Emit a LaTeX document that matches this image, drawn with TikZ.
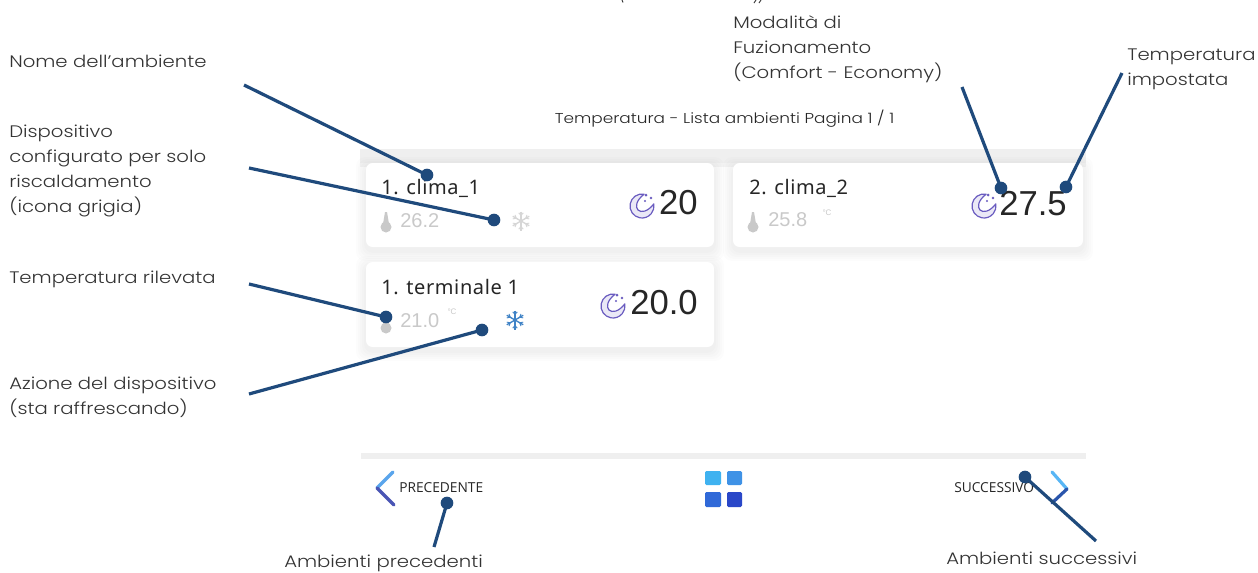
\documentclass[tikz,border=0pt]{standalone}
\usepackage{fontspec}
\setmainfont[FakeStretch=1.18]{Poppins Light}
\newfontfamily\cardfont[LetterSpace=3]{Noto Sans}
\newfontfamily\numfont{Liberation Sans}
\newfontfamily\navfont{Open Sans}
\definecolor{leader}{HTML}{1F4A7C}
\definecolor{labelgray}{HTML}{333333}
\definecolor{faint}{HTML}{C9C9C9}
\definecolor{band}{HTML}{EFEFEF}
\definecolor{moonc}{HTML}{6A5CC0}
\tikzset{
  note/.style={anchor=west,inner sep=0pt,align=left,text=labelgray,font=\fontsize{12.5}{18.75}\selectfont},
  leaderline/.style={draw=leader,line width=2.4pt},
  dot/.style={circle,fill=leader,inner sep=0pt,minimum size=9.5pt},
  cardbox/.style={fill=white,rounded corners=5pt},
  cardname/.style={anchor=west,inner sep=0pt,text=black!85,font=\cardfont\fontsize{15}{18}\selectfont},
  faintnum/.style={anchor=west,inner sep=0pt,text=faint,font=\numfont\fontsize{15}{18}\selectfont},
  unitmark/.style={inner sep=0pt,text=faint,font=\numfont\fontsize{6}{7}\selectfont},
  bignum/.style={anchor=east,inner sep=0pt,text=black!85,font=\numfont\fontsize{26}{30}\selectfont},
  navtext/.style={anchor=west,inner sep=0pt,text=black!85,font=\navfont\fontsize{10.3}{12}\selectfont},
  moonicon/.pic={
    \draw[moonc,line width=.9pt,fill=moonc!14,line cap=round,line join=round]
      (-80:12) arc (-80:-370:12)
      .. controls (-1,14.3) and (-14.3,1) .. cycle;
    \fill[moonc] (4,-11) circle (1.5) (9,-8) circle (1.3) (3,-5) circle (1.1);
  },
  thermo/.pic={
    \fill[#1] (-1,-12) -- (1,-12) -- (3,0) -- (-3,0) -- cycle;
    \fill[#1] (0,3) circle (5.5);
  },
  flake/.pic={
    \foreach \a in {90,30,150}{
      \draw[#1,line width=1pt] (\a:-9.5) -- (\a:9.5);
    }
    \foreach \a in {30,90,150,210,270,330}{
      \draw[#1,line width=.7pt] (\a:5.5) -- ++(\a+40:3.5) (\a:5.5) -- ++(\a-40:3.5);
    }
  },
}
\newcommand{\softcard}[4]{%
  \foreach \g in {10,8,6,4,2}{
    \fill[black,opacity=.01,rounded corners=7pt] (#1-\g,#2-\g+4) rectangle (#3+\g,#4+\g+4);
  }
  \fill[cardbox] (#1,#2) rectangle (#3,#4);
}
\begin{document}
\begin{tikzpicture}[x=.75pt,y=-.75pt]
\useasboundingbox (0,0) rectangle (1258,572);
\fill[white] (0,0) rectangle (1258,572);

% cut-off remains of a line at the top edge
\draw[labelgray,line width=.7pt] (622,0) -- (623,2.5);
\draw[labelgray,line width=.7pt] (756,0) -- (754,3);
\draw[labelgray,line width=.7pt] (761,0) -- (759,3);

% panel
\fill[band] (360,149) rectangle (1086,163);
\fill[band!60] (360,163) rectangle (1086,167);
\softcard{366}{163}{714}{247}
\softcard{733}{163}{1083}{247}
\softcard{366}{262}{714}{347}
\fill[band] (361,453) rectangle (1086,459);

\node[inner sep=0pt,text=black!85,font=\fontsize{10.75}{14}\selectfont] (title) at (724.5,119) {Temperatura - Lista ambienti Pagina 1 / 1};

% cards: text
\node[cardname] (n1) at (381,188) {1. clima\_1};
\node[cardname] (n2) at (749,188) {2. clima\_2};
\node[cardname] (n3) at (381,287) {1. terminale 1};
\node[faintnum] (t1) at (400,221) {26.2};
\node[faintnum] (t2) at (768,220) {25.8};
\node[faintnum] (t3) at (400,321) {21.0};
\node[unitmark] (u2) at (827,213) {°C};
\node[unitmark] (u3) at (452,312) {°C};
\node[bignum] (s1) at (698,203) {20};
\node[bignum] (s2) at (1067,204) {27.5};
\node[bignum] (s3) at (698,303) {20.0};

% icons
\pic at (642,206) {moonicon};
\pic at (984,206) {moonicon};
\pic at (613,306) {moonicon};
\pic at (386,224) {thermo=faint};
\pic at (753,224) {thermo=faint};
\pic at (386,325) {thermo=faint};
\pic at (521,221) {flake=black!16};
\pic at (515,320) {flake={blue!50!cyan!70!black!75}};

% navigation
\definecolor{chevA}{HTML}{5AA5EC}
\definecolor{chevB}{HTML}{4A55B5}
\definecolor{chevC}{HTML}{58B6F5}
\definecolor{chevD}{HTML}{2A55AC}
\draw[line width=2.6pt,line cap=round,color=chevA] (393,472) -- (377,488);
\draw[line width=2.6pt,line cap=round,color=chevB] (377,488) -- (394,505);
\draw[line width=2.4pt,line cap=round,color=chevC] (1052,472) -- (1067,489);
\draw[line width=2.4pt,line cap=round,color=chevD] (1067,489) -- (1052,503);
\node[navtext] (prev) at (399,488) {PRECEDENTE};
\node[navtext] (next) at (954,488) {SUCCESSIVO};
\definecolor{gridA}{HTML}{3FB2F0}
\definecolor{gridB}{HTML}{3F92E6}
\definecolor{gridC}{HTML}{3069D8}
\definecolor{gridD}{HTML}{2A47C8}
\fill[gridA,rounded corners=1pt] (705,471) rectangle (721,485);
\fill[gridB,rounded corners=1pt] (727,471) rectangle (742,485);
\fill[gridC,rounded corners=1pt] (705,492) rectangle (721,507);
\fill[gridD,rounded corners=1pt] (727,492) rectangle (742,507);

% annotations
\node[note] (nome) at (9,61) {Nome dell'ambiente};
\node[note] (disp) at (9,170.5) {Dispositivo\\configurato per solo\\riscaldamento\\(icona grigia)};
\node[note] (ril) at (9,279) {Temperatura rilevata};
\node[note] (azi) at (9,397.5) {Azione del dispositivo\\(sta raffrescando)};
\node[note] (mod) at (733,49) {Modalità di\\Fuzionamento\\(Comfort - Economy)};
\node[note] (imp) at (1127,69) {Temperatura\\impostata};
\node[note] (aprec) at (284,563) {Ambienti precedenti};
\node[note] (asucc) at (946,558) {Ambienti successivi};

% leaders
\coordinate (c1) at (244,85);
\coordinate (c2) at (249,168);
\coordinate (c3) at (249,284);
\coordinate (c4) at (249,394);
\coordinate (c5) at (962,87);
\coordinate (c6) at (1122,73);
\coordinate (c7) at (434,547);
\coordinate (c8) at (1096,541);
\node[dot] (d1) at (427,175) {};
\node[dot] (d2) at (494,220) {};
\node[dot] (d3) at (386,317) {};
\node[dot] (d4) at (482,330) {};
\node[dot] (d5) at (1001,188) {};
\node[dot] (d6) at (1066,187) {};
\node[dot] (d7) at (447,503) {};
\node[dot] (d8) at (1025,477) {};
\foreach \i in {1,...,8}{
  \draw[leaderline] (c\i) -- (d\i.center);
}
\end{tikzpicture}
\end{document}
